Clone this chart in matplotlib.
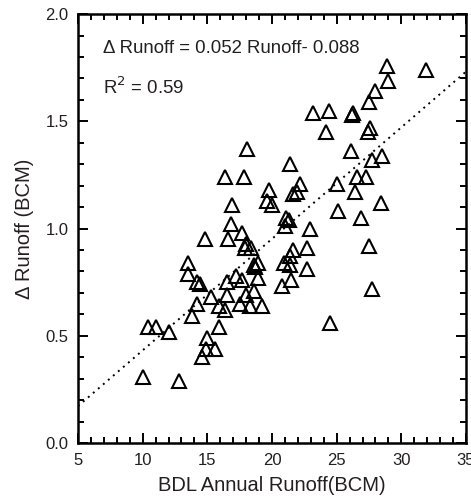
import numpy as np
import matplotlib
matplotlib.use("Agg")
import matplotlib.pyplot as plt
from matplotlib.ticker import MultipleLocator

# Annual runoff (BCM) vs change in runoff (BCM)
runoff = [28.9, 31.9, 29.0, 28.0, 27.5, 23.2, 24.4, 26.2, 26.3, 24.2,
          27.4, 27.6, 26.1, 27.7, 28.5, 18.1, 21.4, 16.4, 17.8, 26.6,
          27.3, 19.8, 22.2, 21.9, 21.6, 25.0, 26.4, 19.6, 20.0, 16.9,
          28.4, 25.1, 26.9, 21.1, 21.3, 21.0, 16.8, 22.9, 14.8, 16.6,
          17.7, 18.0, 17.9, 18.4, 22.7, 27.5, 21.6, 13.5, 18.6, 18.9,
          18.7, 20.9, 21.4, 21.4, 22.7, 13.5, 14.2, 14.4, 16.5, 17.2,
          17.7, 18.9, 18.6, 18.0, 21.5, 20.8, 27.7, 15.3, 16.5, 14.2,
          15.9, 16.4, 17.5, 18.3, 19.2, 13.8, 15.9, 24.5, 10.4, 11.0,
          12.0, 15.0, 14.9, 15.6, 14.6, 10.0, 12.8]
d_runoff = [1.76, 1.74, 1.69, 1.64, 1.59, 1.54, 1.55, 1.53, 1.54, 1.45,
            1.45, 1.47, 1.36, 1.32, 1.34, 1.37, 1.30, 1.24, 1.24, 1.24,
            1.24, 1.18, 1.21, 1.17, 1.16, 1.21, 1.17, 1.13, 1.11, 1.11,
            1.12, 1.08, 1.05, 1.05, 1.04, 1.01, 1.02, 1.00, 0.95, 0.95,
            0.98, 0.93, 0.91, 0.91, 0.91, 0.92, 0.90, 0.84, 0.83, 0.84,
            0.82, 0.84, 0.87, 0.83, 0.81, 0.79, 0.75, 0.74, 0.75, 0.78,
            0.76, 0.77, 0.71, 0.69, 0.76, 0.73, 0.72, 0.68, 0.69, 0.65,
            0.64, 0.62, 0.65, 0.64, 0.64, 0.59, 0.54, 0.56, 0.54, 0.54,
            0.52, 0.49, 0.44, 0.44, 0.40, 0.31, 0.29]

slope = 0.052
intercept = -0.088
x_range = [5, 35]

plt.rcParams['font.family'] = ['Liberation Sans', 'DejaVu Sans']
txt = '#231f20'

fig = plt.figure(figsize=(4.71, 5.04), dpi=100)
ax = fig.add_axes([0.1656, 0.121, 0.8238, 0.851])

ax.plot(runoff, d_runoff, linestyle='none', marker='^', markersize=10.5,
        markerfacecolor='none', markeredgecolor='black', markeredgewidth=1.5)

# fitted line
fx = np.array(x_range, dtype=float)
ax.plot(fx, slope * fx + intercept, color='black', linestyle=(0, (1, 2.4)),
        linewidth=1.4)

ax.set_xlim(x_range)
ax.set_ylim(0, 2.0)
ax.xaxis.set_major_locator(MultipleLocator(5))
ax.xaxis.set_minor_locator(MultipleLocator(1))
ax.yaxis.set_major_locator(MultipleLocator(0.5))
ax.yaxis.set_minor_locator(MultipleLocator(0.1))
ax.yaxis.set_major_formatter(matplotlib.ticker.FormatStrFormatter('%.1f'))

ax.tick_params(which='both', direction='in', top=True, right=True,
               width=1.4, labelsize=12, colors='black', labelcolor=txt, pad=7)
ax.tick_params(which='major', length=7)
ax.tick_params(which='minor', length=4)
for s in ax.spines.values():
    s.set_linewidth(1.8)

ax.set_xlabel('BDL Annual Runoff(BCM)', fontsize=14.5, color=txt, labelpad=6)
ax.set_ylabel('\u0394 Runoff (BCM)', fontsize=14.5, color=txt, labelpad=8)

ax.text(6.9, 1.84, '\u0394 Runoff = 0.052 Runoff- 0.088', fontsize=13.4,
        color=txt, va='center')
ax.text(6.9, 1.66, 'R$^2$ = 0.59', fontsize=13.4, color=txt, va='center')

fig.savefig('out.png', dpi=100)
